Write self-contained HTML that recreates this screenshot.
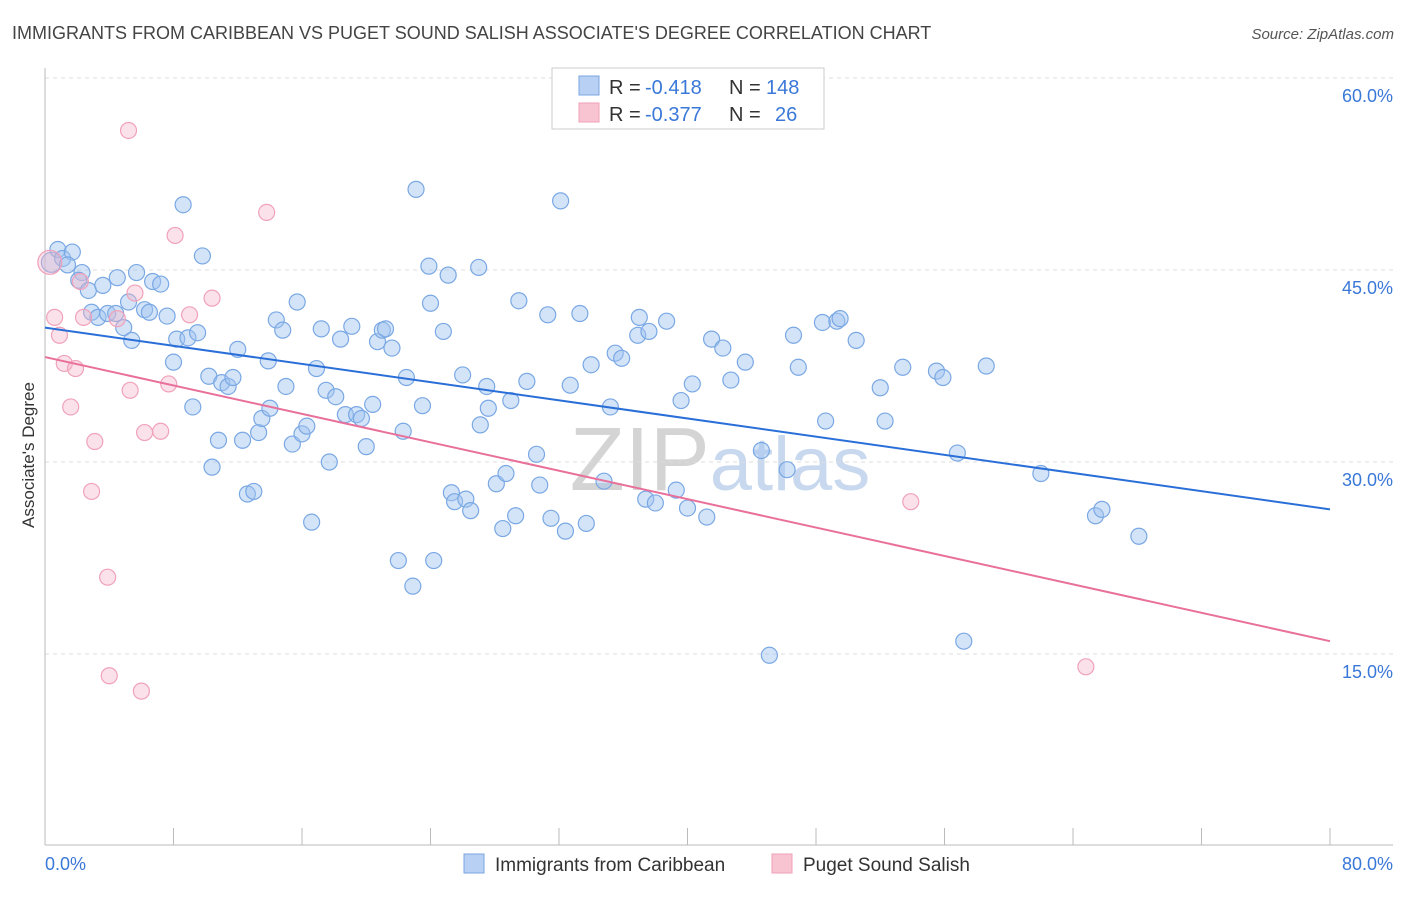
<!DOCTYPE html>
<html><head><meta charset="utf-8"><style>
body{margin:0;background:#fff;font-family:"Liberation Sans",sans-serif;}
svg text{font-family:"Liberation Sans",sans-serif;}
</style></head><body>
<svg width="1406" height="892" viewBox="0 0 1406 892" xmlns="http://www.w3.org/2000/svg">
<text x="12" y="39" font-size="18" fill="#444">IMMIGRANTS FROM CARIBBEAN VS PUGET SOUND SALISH ASSOCIATE'S DEGREE CORRELATION CHART</text>
<text x="1394" y="39" font-size="15" fill="#555" text-anchor="end" font-style="italic">Source: ZipAtlas.com</text>
<text x="720" y="490" font-size="90" fill="#d8d8d8" text-anchor="middle" font-family="Liberation Serif"><tspan fill="#d4d4d4">ZIP</tspan><tspan fill="#c8d8ee" font-family="Liberation Sans" font-size="76">atlas</tspan></text>
<g id="grid"></g>
<g id="axes"></g>
<g id="pts"></g>
<g id="trends"></g>
<text transform="translate(34,455) rotate(-90)" font-size="17" fill="#333" text-anchor="middle">Associate's Degree</text>
<g>
<rect x="552" y="68" width="272" height="61" fill="#fff" stroke="#ccc"/>
<rect x="579" y="76" width="20" height="19" fill="#b8d0f4" stroke="#7aa6e0"/>
<rect x="579" y="103" width="20" height="19" fill="#f9c4d2" stroke="#f0a0b8"/>
<g font-size="20">
<text x="609" y="94" fill="#333">R =</text><text x="645" y="94" fill="#3a78d8">-0.418</text>
<text x="729" y="94" fill="#333">N =</text><text x="766" y="94" fill="#3a78d8">148</text></g>
<g font-size="20">
<text x="609" y="121" fill="#333">R =</text><text x="645" y="121" fill="#3a78d8">-0.377</text>
<text x="729" y="121" fill="#333">N =</text><text x="775" y="121" fill="#3a78d8">26</text></g>
</g>
<g>
<rect x="464" y="854" width="20" height="19" fill="#b8d0f4" stroke="#7aa6e0"/>
<text x="495" y="871" font-size="19" fill="#333">Immigrants from Caribbean</text>
<rect x="772" y="854" width="20" height="19" fill="#f9c4d2" stroke="#f0a0b8"/>
<text x="803" y="871" font-size="19" fill="#333">Puget Sound Salish</text>
</g>
</svg>
<script>
const blueX=[0.4,0.8,1.1,1.7,1.4,2.3,2.1,2.7,3.6,4.5,2.9,3.3,3.9,4.4,4.9,5.4,5.2,5.7,6.2,6.7,6.5,7.2,7.6,8.6,9.8,8.2,8.0,8.9,9.5,9.2,10.2,10.4,10.8,11.0,11.4,11.7,12.0,12.3,12.6,13.0,13.3,13.5,13.9,14.0,14.4,14.8,15.0,15.4,15.7,16.0,16.3,16.6,16.9,17.2,17.5,17.7,18.1,18.4,18.7,19.1,19.4,19.7,20.0,20.4,20.7,21.0,21.2,21.6,22.0,22.3,22.5,22.9,23.1,23.5,23.9,24.0,24.2,24.8,25.1,25.3,25.5,26.0,26.2,26.5,27.0,27.1,27.5,27.6,28.1,28.5,28.7,29.0,29.3,29.5,30.0,30.6,30.8,31.3,31.5,32.1,32.4,32.7,33.3,33.7,34.0,34.8,35.2,35.5,35.9,37.0,36.9,37.4,37.6,38.0,38.7,39.3,39.6,40.0,40.3,41.2,41.5,42.2,42.7,43.6,44.6,45.1,46.2,46.6,46.9,48.4,48.6,49.3,49.5,50.5,52.0,52.3,53.4,55.5,55.9,56.8,57.2,58.6,62.0,65.4,65.8,68.1];
const blueY=[45.6,46.6,45.9,46.4,45.4,44.8,44.2,43.4,43.8,44.4,41.7,41.3,41.6,41.6,40.5,39.5,42.5,44.8,41.9,44.1,41.7,43.9,41.4,50.1,46.1,39.6,37.8,39.7,40.1,34.3,36.7,29.6,31.7,36.2,35.9,36.6,38.8,31.7,27.5,27.7,32.3,33.4,37.9,34.2,41.1,40.3,35.9,31.4,42.5,32.2,32.8,25.3,37.3,40.4,35.6,30.0,35.1,39.6,33.7,40.6,33.7,33.4,31.2,34.5,39.4,40.3,40.4,38.9,22.3,32.4,36.6,20.3,51.3,34.4,45.3,42.4,22.3,40.2,44.6,27.6,26.9,36.8,27.1,26.2,45.2,32.9,35.9,34.2,28.3,24.8,29.1,34.8,25.8,42.6,36.3,30.6,28.2,41.5,25.6,50.4,24.6,36.0,41.6,25.2,37.6,28.5,34.3,38.5,38.1,41.3,39.9,27.1,40.2,26.8,41.0,27.8,34.8,26.4,36.1,25.7,39.6,38.9,36.4,37.8,30.9,14.9,29.4,39.9,37.4,40.9,33.2,41.0,41.2,39.5,35.8,33.2,37.4,37.1,36.6,30.7,16.0,37.5,29.1,25.8,26.3,24.2];
const pinkX=[0.3,0.6,0.9,1.2,1.6,2.2,2.4,2.9,3.1,3.9,4.0,4.5,5.2,5.3,5.6,6.0,6.2,7.2,7.7,8.1,9.0,10.4,13.8,53.9,64.8,1.9];
const pinkY=[45.6,41.3,39.9,37.7,34.3,44.1,41.3,27.7,31.6,21.0,13.3,41.2,55.9,35.6,43.2,12.1,32.3,32.4,36.1,47.7,41.5,42.8,49.5,26.9,14.0,37.3];
const blueTrend=[40.5,26.3];
const pinkTrend=[38.2,16.0];
const yTicks=[15,30,45,60];
const xTicks=[0,8,16,24,32,40,48,56,64,72,80];
const NS="http://www.w3.org/2000/svg";
const X0=45,X1=1330,Y0=846,PXY=12.8;
const sx=v=>X0+(X1-X0)*v/80;
const sy=v=>Y0-v*PXY;
function mk(t,a,p){const e=document.createElementNS(NS,t);for(const k in a)e.setAttribute(k,a[k]);p.appendChild(e);return e;}
const grid=document.getElementById('grid'),axes=document.getElementById('axes'),pts=document.getElementById('pts'),tr=document.getElementById('trends');
yTicks.forEach(v=>{
 const l=mk('line',{x1:45,x2:1393,y1:sy(v),y2:sy(v),stroke:'#ddd','stroke-dasharray':'4,4'},grid);
 
 
 const t=mk('text',{x:1393,y:sy(v)+24,'font-size':18,fill:'#3a78d8','text-anchor':'end'},axes);
 t.textContent=v.toFixed(1)+'%';
 
 
});
const topGrid=mk('line',{x1:45,x2:1393,y1:78,y2:78,stroke:'#ddd','stroke-dasharray':'4,4'},grid);


const xa=mk('line',{x1:45,x2:1393,y1:845,y2:845,stroke:'#bbb'},axes);


const ya=mk('line',{x1:45,x2:45,y1:68,y2:845,stroke:'#bbb'},axes);


xTicks.forEach(v=>{
 const l=mk('line',{x1:sx(v),x2:sx(v),y1:828,y2:845,stroke:'#bbb'},axes);
 
 
});
[[0,'start'],[80,'end']].forEach(([v,a])=>{
 const t=mk('text',{x:v==0?45:1393,y:870,'font-size':18,fill:'#3a78d8','text-anchor':a},axes);
 t.textContent=v.toFixed(1)+'%';
 
 
});
blueX.forEach((x,i)=>{
 const c=mk('circle',{cx:sx(x),cy:sy(blueY[i]),r:i==0?10:8,fill:'rgba(160,195,240,0.45)',stroke:'#7aa8e4','stroke-width':1.2},pts);
 
 
});
pinkX.forEach((x,i)=>{
 const c=mk('circle',{cx:sx(x),cy:sy(pinkY[i]),r:i==0?12:8,fill:'rgba(245,180,200,0.4)',stroke:'#f0a2ba','stroke-width':1.2},pts);
 
 
});
const bl=mk('line',{x1:sx(0),x2:sx(80),y1:sy(blueTrend[0]),y2:sy(blueTrend[1]),stroke:'#2a6fd8','stroke-width':2},tr);


const pl=mk('line',{x1:sx(0),x2:sx(80),y1:sy(pinkTrend[0]),y2:sy(pinkTrend[1]),stroke:'#e8709a','stroke-width':2},tr);


</script>
</body></html>
